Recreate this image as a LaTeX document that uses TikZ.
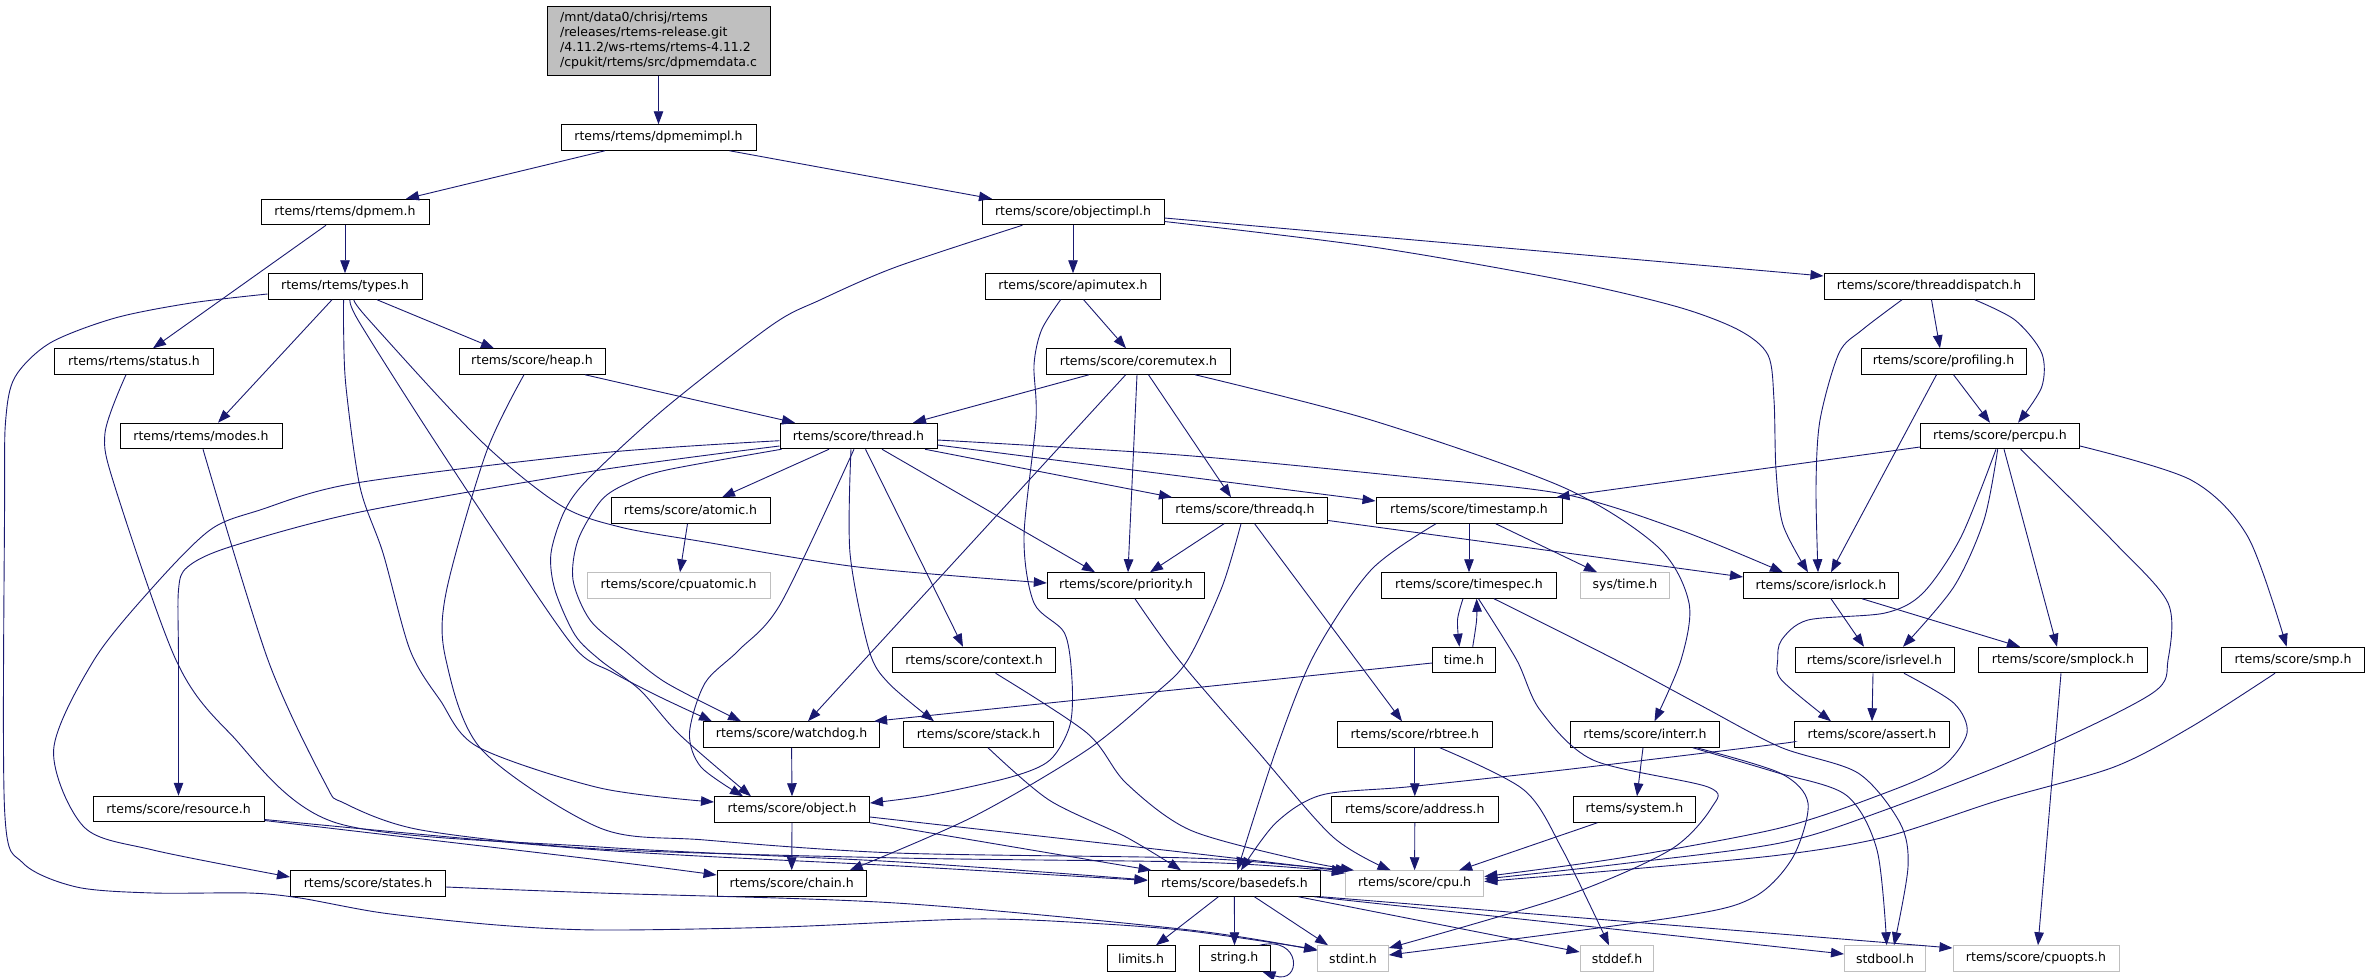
\documentclass[tikz,border=0pt]{standalone}
\usepackage{fontspec}
\setmainfont{DejaVu Sans}
\usetikzlibrary{arrows.meta}
\definecolor{edgec}{HTML}{191970}
\definecolor{extc}{HTML}{BFBFBF}
\begin{document}
\begin{tikzpicture}[x=1pt,y=-1pt,
  box/.style={draw=black, line width=1pt, minimum height=25.5pt, inner sep=0pt, font=\fontsize{12.5}{14.8}\selectfont},
  ext/.style={box, draw=extc},
  e/.style={draw=edgec, line width=0.9pt, -{Triangle[length=13pt,width=9.5pt]}}]
\useasboundingbox (0,0) rectangle (2370,978);
% nodes
\node[box, fill=extc, minimum width=223pt, minimum height=69pt, align=left] (root) at (658.5,40.5) {/mnt/data0/chrisj/rtems\\/releases/rtems-release.git\\/4.11.2/ws-rtems/rtems-4.11.2\\/cpukit/rtems/src/dpmemdata.c};
\node[box, minimum width=195pt] (dpmemimpl) at (658.5,137.5) {rtems/rtems/dpmemimpl.h};
\node[box, minimum width=168pt] (dpmem) at (345,212) {rtems/rtems/dpmem.h};
\node[box, minimum width=182pt] (objectimpl) at (1073,212) {rtems/score/objectimpl.h};
\node[box, minimum width=154pt] (types) at (345,286.5) {rtems/rtems/types.h};
\node[box, minimum width=175.5pt] (apimutex) at (1073,286.5) {rtems/score/apimutex.h};
\node[box, minimum width=210pt] (threaddispatch) at (1929,286.5) {rtems/score/threaddispatch.h};
\node[box, minimum width=158.5pt] (status) at (134,361.5) {rtems/rtems/status.h};
\node[box, minimum width=146pt] (heap) at (532,361.5) {rtems/score/heap.h};
\node[box, minimum width=184pt] (coremutex) at (1138.5,361.5) {rtems/score/coremutex.h};
\node[box, minimum width=165pt] (profiling) at (1943.5,361.5) {rtems/score/profiling.h};
\node[box, minimum width=162pt] (modes) at (201,436) {rtems/rtems/modes.h};
\node[box, minimum width=157pt] (thread) at (858.5,436) {rtems/score/thread.h};
\node[box, minimum width=159pt] (percpu) at (2000,436) {rtems/score/percpu.h};
\node[box, minimum width=159pt] (atomic) at (690.5,510.5) {rtems/score/atomic.h};
\node[box, minimum width=165.5pt] (threadq) at (1245,510.5) {rtems/score/threadq.h};
\node[box, minimum width=186pt] (timestamp) at (1469,510.5) {rtems/score/timestamp.h};
\node[ext, minimum width=183pt] (cpuatomic) at (678.5,585.5) {rtems/score/cpuatomic.h};
\node[box, minimum width=157.4pt] (priority) at (1126,585.5) {rtems/score/priority.h};
\node[box, minimum width=174.5pt] (timespec) at (1469,585.5) {rtems/score/timespec.h};
\node[ext, minimum width=88.4pt] (systime) at (1625,585.5) {sys/time.h};
\node[box, minimum width=155pt] (isrlock) at (1821,585.5) {rtems/score/isrlock.h};
\node[box, minimum width=162.7pt] (context) at (974,660) {rtems/score/context.h};
\node[box, minimum width=62.8pt] (timeh) at (1464,660) {time.h};
\node[box, minimum width=159pt] (isrlevel) at (1874.5,660) {rtems/score/isrlevel.h};
\node[box, minimum width=168.5pt] (smplock) at (2063,660) {rtems/score/smplock.h};
\node[box, minimum width=142.6pt] (smp) at (2293,660) {rtems/score/smp.h};
\node[box, minimum width=176pt] (watchdog) at (791.6,734.5) {rtems/score/watchdog.h};
\node[box, minimum width=149.6pt] (stack) at (978.6,734.5) {rtems/score/stack.h};
\node[box, minimum width=155pt] (rbtree) at (1414.8,734.5) {rtems/score/rbtree.h};
\node[box, minimum width=148.5pt] (interr) at (1645,734.5) {rtems/score/interr.h};
\node[box, minimum width=154.5pt] (assert) at (1872,734.5) {rtems/score/assert.h};
\node[box, minimum width=171pt] (resource) at (178.5,809) {rtems/score/resource.h};
\node[box, minimum width=155pt] (object) at (792,809.5) {rtems/score/object.h};
\node[box, minimum width=166.5pt] (address) at (1414.8,809.5) {rtems/score/address.h};
\node[box, minimum width=122.8pt] (system) at (1634.4,809.5) {rtems/system.h};
\node[box, minimum width=155pt] (states) at (368,883.5) {rtems/score/states.h};
\node[box, minimum width=149.3pt] (chain) at (791.7,883.5) {rtems/score/chain.h};
\node[box, minimum width=172.8pt] (basedefs) at (1234.4,883.5) {rtems/score/basedefs.h};
\node[ext, minimum width=138.5pt] (cpu) at (1414.6,883.5) {rtems/score/cpu.h};
\node[box, minimum width=68pt] (limits) at (1141,958.5) {limits.h};
\node[box, minimum width=71pt] (string) at (1234.5,958.5) {string.h};
\node[ext, minimum width=70.7pt] (stdint) at (1353,958.5) {stdint.h};
\node[ext, minimum width=73.7pt] (stddef) at (1617,958.5) {stddef.h};
\node[ext, minimum width=81pt] (stdbool) at (1885,958.5) {stdbool.h};
\node[ext, minimum width=166pt] (cpuopts) at (2036,958.5) {rtems/score/cpuopts.h};
% edges
\draw[e] (root.south) -- (dpmemimpl.north);
\draw[e] ([xshift=-53.5pt]dpmemimpl.south) -- ([xshift=61pt]dpmem.north);
\draw[e] ([xshift=71pt]dpmemimpl.south) -- ([xshift=-81pt]objectimpl.north);
\draw[e] (dpmem.south) -- (types.north);
\draw[e] ([xshift=-19pt]dpmem.south) -- ([xshift=19pt]status.north);
\draw[e] (objectimpl.south) -- (apimutex.north);
\draw[e] ([yshift=-6pt]objectimpl.east) -- ([yshift=10.5pt]threaddispatch.west);
\draw[e] plot[smooth] coordinates {([yshift=-9.5pt]objectimpl.east) (1371,246.7) (1562.6,280) (1677,306.7) (1738.7,330) (1768,355) (1774,400) (1776,470) (1783,525) ([xshift=-13pt]isrlock.north)};
\draw[e] plot[smooth] coordinates {([xshift=-50.6pt]objectimpl.south) (896,267) (820,300) (772,325) (666.5,407) (590,477) (565,510) (551,553) (555,590) (575,635) (600,660) (640,690) (680,735) ([xshift=-41pt]object.north)};
\draw[e] ([xshift=10.6pt]apimutex.south) -- ([xshift=-12.5pt]coremutex.north);
\draw[e] plot[smooth] coordinates {([xshift=-12.4pt]apimutex.south) (1041.5,330) (1034,365) (1036,420) (1024,537) (1034,603) (1064.5,633) (1072,680) (1070,725) (1050,760) (1011,777) (930,795) ([yshift=6.5pt]object.east)};
\draw[e] plot[smooth] coordinates {([xshift=-27pt]threaddispatch.south) (1862,330) (1839,353) (1820,420) (1816,487) ([xshift=-3pt]isrlock.north)};
\draw[e] ([xshift=2.5pt]threaddispatch.south) -- ([xshift=-3.5pt]profiling.north);
\draw[e] plot[smooth] coordinates {([xshift=45.7pt]threaddispatch.south) (2015,320) (2041.7,353) (2041.7,387) ([xshift=18pt]percpu.north)};
\draw[e] ([xshift=-7pt]profiling.south) -- ([xshift=10pt]isrlock.north);
\draw[e] ([xshift=10pt]profiling.south) -- ([xshift=-10pt]percpu.north);
% types
\draw[e] plot[smooth] coordinates {([yshift=-7.5pt]types.west) (191,303) (115,318) (50,343) (15,377) (5.7,420) (4.6,500) (4.6,810) (23,863) (76.5,887) (153,893) (249,893) (300,898) (383,913) (497,925) (600,930) (781,927) (973,919) (1087,923) (1190,931) ([yshift=9pt]stdint.west)};
\draw[e] ([xshift=-13pt]types.south) -- ([xshift=17pt]modes.north);
\draw[e] ([xshift=32pt]types.south) -- ([xshift=-38pt]heap.north);
\draw[e] plot[smooth] coordinates {([xshift=-1.4pt]types.south) (343.6,330) (346,387) (360,487) (383,553) (410,650) (440,700) (478,747) (600,788) ([yshift=7.5pt]object.west)};
\draw[e] plot[smooth] coordinates {([xshift=5pt]types.south) (358,320) (421,420) (500,540) (574,647) (612,672) (660,697) ([xshift=-79.6pt]watchdog.north)};
\draw[e] plot[smooth] coordinates {([xshift=9pt]types.south) (369,320) (480,440) (560,505) (620,527) (705,542) (858,567) ([yshift=2.5pt]priority.west)};
% status, modes, heap
\draw[e] plot[smooth] coordinates {([xshift=-8pt]status.south) (105,433) (115,487) (176,660) (229.6,733) (336.7,823) (600,847) (900,862) ([yshift=3.5pt]basedefs.west)};
\draw[e] plot[smooth] coordinates {([xshift=2pt]modes.south) (268,660) (325,783) (344,803) (421,830) (600,849) (900,858) (1190,862) (1300,868) ([yshift=-3pt]cpu.north west)};
\draw[e] ([xshift=53pt]heap.south) -- ([xshift=-63.5pt]thread.north);
\draw[e] plot[smooth] coordinates {([xshift=-8pt]heap.south) (486,453) (446,593) (446,660) (482,750) (600,828) (705,840) (896,853) (1190,858) (1300,866) ([xshift=4pt]cpu.north west)};
% coremutex
\draw[e] ([xshift=-49.5pt]coremutex.south) -- ([xshift=54.5pt]thread.north);
\draw[e] ([xshift=-12.8pt]coremutex.south) -- ([xshift=16.4pt]watchdog.north);
\draw[e] ([xshift=-1.5pt]coremutex.south) -- ([xshift=2pt]priority.north);
\draw[e] ([xshift=10pt]coremutex.south) -- ([xshift=-14pt]threadq.north);
\draw[e] plot[smooth] coordinates {([xshift=56.5pt]coremutex.south) (1371,420) (1562.6,487) (1658,547) (1689,603) (1681,660) ([xshift=9.5pt]interr.north)};
% threadq
\draw[e] ([xshift=-21pt]threadq.south) -- ([xshift=24pt]priority.north);
\draw[e] ([yshift=-10pt]threadq.east) -- ([yshift=8.5pt]isrlock.west);
\draw[e] ([xshift=9.6pt]threadq.south) -- ([xshift=-12.8pt]rbtree.north);
\draw[e] plot[smooth] coordinates {([xshift=-4pt]threadq.south) (1222,587) (1187.7,660) (1156,693) (1087,750) (972.6,817) ([xshift=58pt]chain.north)};
% thread
\draw[e] ([xshift=-29.5pt]thread.south) -- ([xshift=31.5pt]atomic.north);
\draw[e] plot[smooth] coordinates {([xshift=-4.5pt]thread.south) (781,603) (739,650) (705,683) (689.5,733) (701,767) ([xshift=-49pt]object.north)};
\draw[e] plot[smooth] coordinates {([xshift=-7.5pt]thread.south) (850,553) (869,650) (888.5,683) ([xshift=-44.6pt]stack.north)};
\draw[e] ([xshift=7pt]thread.south) -- ([xshift=-11pt]context.north);
\draw[e] ([xshift=23.5pt]thread.south) -- ([xshift=-31pt]priority.north);
\draw[e] ([xshift=66.5pt]thread.south) -- ([xshift=-73pt]threadq.north);
\draw[e] ([yshift=-9pt]thread.east) -- ([yshift=9.5pt]timestamp.west);
\draw[e] plot[smooth] coordinates {([yshift=-4pt]thread.east) (1180,455) (1400,476) (1563,494) (1680,530) ([xshift=-38pt]isrlock.north)};
\draw[e] plot[smooth] coordinates {([yshift=-4.7pt]thread.west) (600,453) (356,483) (260,510) (210,530) (153,587) (94,660) (53.6,750) (84,827) (153,850) ([yshift=6.5pt]states.west)};
\draw[e] plot[smooth] coordinates {([yshift=-10pt]thread.west) (600,470) (360,512) (229.6,547) (187.5,567) (178.5,590) (178.5,660) (resource.north)};
\draw[e] plot[smooth] coordinates {([xshift=2pt]thread.south west) (666.5,470) (628,483) (601.5,500) (578,540) (573,580) (590,620) (624,650) (666.5,683) ([xshift=-50.6pt]watchdog.north)};
\draw[e] ([xshift=-3pt]atomic.south) -- ([xshift=1.5pt]cpuatomic.north);
% percpu
\draw[e] ([yshift=-11pt]percpu.west) -- ([xshift=-6pt]timestamp.north east);
\draw[e] plot[smooth] coordinates {([xshift=-2.3pt]percpu.south) (1984,520) (1953.7,587) ([xshift=28.5pt]isrlevel.north)};
\draw[e] plot[smooth] coordinates {([xshift=-4pt]percpu.south) (1961,537) (1923,593) (1885,613) (1808,620) (1781.5,640) (1777.7,660) (1781.5,680) ([xshift=-41pt]assert.north)};
\draw[e] ([xshift=4pt]percpu.south) -- ([xshift=-6pt]smplock.north);
\draw[e] plot[smooth] coordinates {([xshift=20.6pt]percpu.south) (2114,542) (2168,603) (2168,660) (2152.6,693) (2038,750) (1885,810) (1780,843) (1620,864) ([yshift=4.5pt]cpu.east)};
\draw[e] plot[smooth] coordinates {([yshift=-10pt]percpu.east) (2191,480) (2248,537) ([xshift=-6.4pt]smp.north)};
% isrlock, isrlevel, smp, smplock, assert
\draw[e] ([xshift=10pt]isrlock.south) -- ([xshift=-10.5pt]isrlevel.north);
\draw[e] ([xshift=41pt]isrlock.south) -- ([xshift=-43pt]smplock.north);
\draw[e] ([xshift=-1.5pt]isrlevel.south) -- (assert.north);
\draw[e] plot[smooth] coordinates {([xshift=29.5pt]isrlevel.south) (1953.7,703) (1967,733) (1942,767) (1885,793) (1780,828) (1620,858) ([yshift=7pt]cpu.east)};
\draw[e] plot[smooth] coordinates {([xshift=-18pt]smp.south) (2191,727) (2114,767) (1999.6,800) (1885,837) (1780,855) (1620,870) ([yshift=2pt]cpu.east)};
\draw[e] ([xshift=-2pt]smplock.south) -- ([xshift=2pt]cpuopts.north);
\draw[e] plot[smooth] coordinates {([yshift=-7pt]assert.west) (1770,745) (1562.6,770) (1409.6,786.7) (1321.6,795) (1275.7,823) ([xshift=6.6pt]basedefs.north)};
% timespec, time, timestamp
\draw[e] plot[smooth] coordinates {([xshift=-6pt]timespec.south) (1457.5,620) ([xshift=-4.6pt]timeh.north)};
\draw[e] plot[smooth] coordinates {([xshift=8.7pt]timeh.north) (1476.6,620) ([xshift=7.6pt]timespec.south)};
\draw[e] plot[smooth] coordinates {([xshift=9.5pt]timespec.south) (1516.7,660) (1540,710) (1593,760) (1708,787) (1712,807) (1670,850) (1562.6,897) ([yshift=10.5pt]stdint.east)};
\draw[e] plot[smooth] coordinates {([xshift=25pt]timespec.south) (1616,660) (1700,705) (1780,747) (1858,773) (1900,823) (1908,867) ([xshift=9pt]stdbool.north)};
\draw[e] ([yshift=-3pt]timeh.west) -- ([xshift=-6pt]watchdog.north east);
\draw[e] (timestamp.south) -- (timespec.north);
\draw[e] ([xshift=26.7pt]timestamp.south) -- ([xshift=-28pt]systime.north);
\draw[e] plot[smooth] coordinates {([xshift=-33pt]timestamp.south) (1371,570) (1314,655) (1276,750) ([xshift=3pt]basedefs.north)};
% priority, rbtree, address, interr, system, context, stack
\draw[e] plot[smooth] coordinates {([xshift=9pt]priority.south) (1179,660) (1256.5,750) (1333,837) ([xshift=-24pt]cpu.north)};
\draw[e] (rbtree.south) -- (address.north);
\draw[e] plot[smooth] coordinates {([xshift=25pt]rbtree.south) (1524,790) (1562.6,850) ([xshift=-8pt]stddef.north)};
\draw[e] (address.south) -- (cpu.north);
\draw[e] ([xshift=-2pt]interr.south) -- ([xshift=2.6pt]system.north);
\draw[e] plot[smooth] coordinates {([xshift=47.8pt]interr.south) (1775,772) (1846,795) (1877,850) ([xshift=1.7pt]stdbool.north)};
\draw[e] plot[smooth] coordinates {([xshift=51.6pt]interr.south) (1780,773) (1808,803) (1793,857) (1754,897) (1677,917) ([yshift=3.5pt]stdint.east)};
\draw[e] ([xshift=-37pt]system.south) -- ([xshift=44.5pt]cpu.north);
\draw[e] plot[smooth] coordinates {([xshift=21.6pt]context.south) (1087,733) (1126,783) (1190,830) (1300,860) ([xshift=9pt]cpu.north west)};
\draw[e] plot[smooth] coordinates {([xshift=9.4pt]stack.south) (1049,800) (1126,837) ([xshift=-53.4pt]basedefs.north)};
% watchdog, object, resource, states
\draw[e] (watchdog.south) -- (object.north);
\draw[e] (object.south) -- (chain.north);
\draw[e] (object.south east) -- ([xshift=4pt]basedefs.north west);
\draw[e] plot[smooth] coordinates {([yshift=-7.5pt]object.east) (1190,853) ([yshift=-1pt]cpu.north west)};
\draw[e] plot[smooth] coordinates {([yshift=-11.5pt]resource.east) (600,860) ([yshift=8.5pt]chain.west)};
\draw[e] plot[smooth] coordinates {([yshift=-10.5pt]resource.east) (600,850) (900,866) ([yshift=3pt]basedefs.west)};
\draw[e] plot[smooth] coordinates {([yshift=-3.5pt]states.east) (600,893) (896,903) (1190,930) ([yshift=8pt]stdint.west)};
% basedefs
\draw[e] ([xshift=-16pt]basedefs.south) -- ([xshift=15pt]limits.north);
\draw[e] (basedefs.south) -- (string.north);
\draw[e] ([xshift=20pt]basedefs.south) -- ([xshift=-25pt]stdint.north);
\draw[e] ([xshift=64pt]basedefs.south) -- ([yshift=6.5pt]stddef.west);
\draw[e] ([xshift=80pt]basedefs.south) -- ([yshift=4.5pt]stdbool.west);
\draw[e] (basedefs.south east) -- ([yshift=10.5pt]cpuopts.west);
\draw[e] ([xshift=25pt]string.north) .. controls (1302,935) and (1302,985) .. ([xshift=28pt]string.south);
\end{tikzpicture}
\end{document}
